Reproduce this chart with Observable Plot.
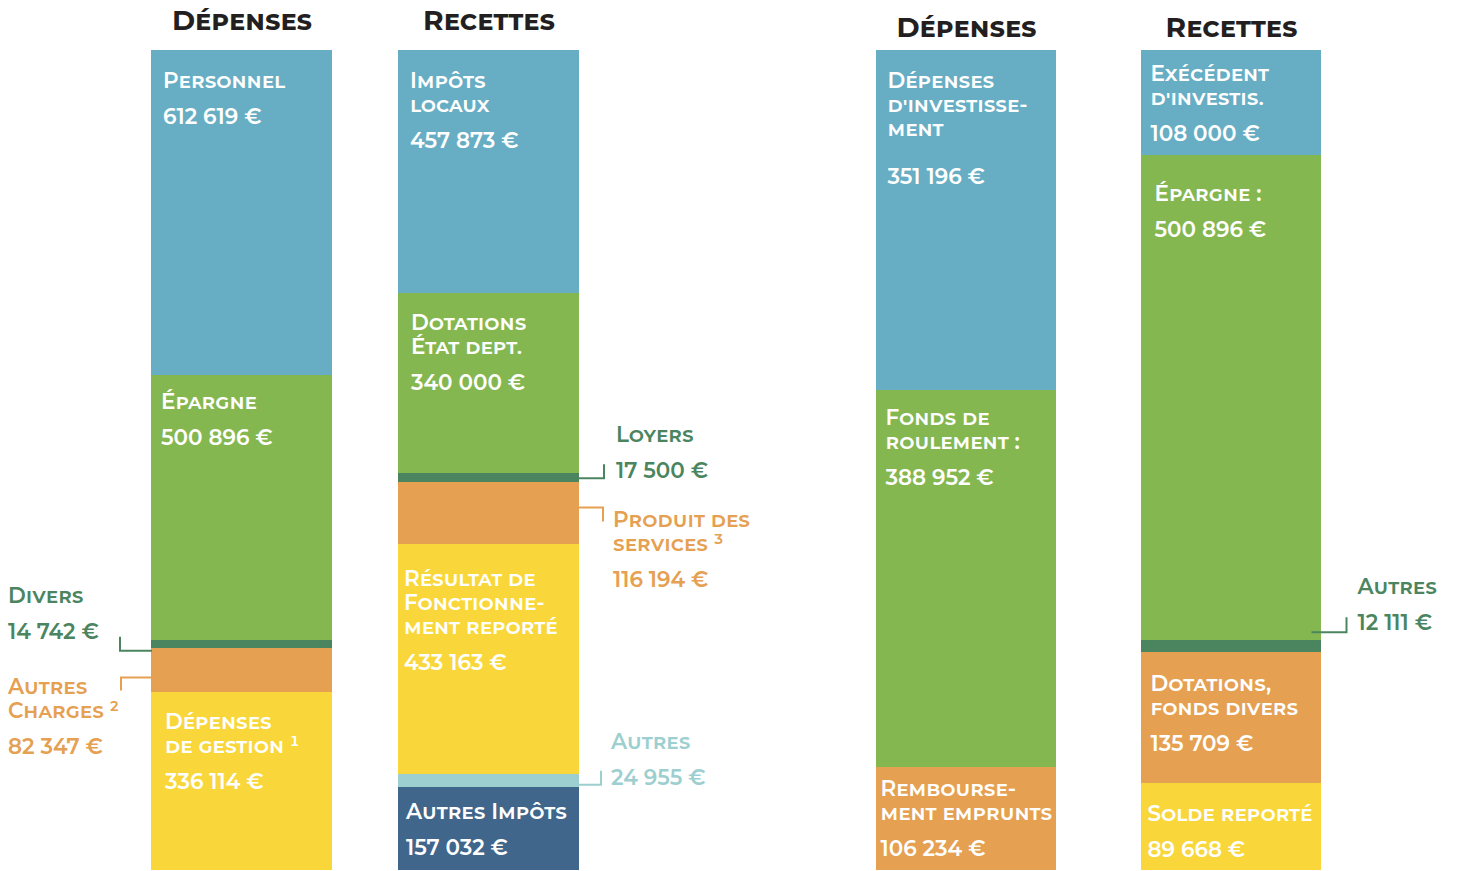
<!DOCTYPE html>
<html>
<head>
<meta charset="utf-8">
<script src="https://cdn.jsdelivr.net/npm/d3@7"></script>
<script src="https://cdn.jsdelivr.net/npm/@observablehq/plot@0.6"></script>
<style>
  html, body { margin: 0; padding: 0; background: #fff; }
  #wrap { display: flex; width: 1459px; height: 871px; overflow: hidden; }
  #wrap svg { display: block; overflow: visible; background: transparent; }
</style>
</head>
<body>
<div id="wrap"></div>
<script>
// ---------- DATA ----------
const barNames = ["Dépenses", "Recettes"];

const fonctDepLabels = ["Personnel", "Épargne", "Divers", "Autres\nCharges ²", "Dépenses\nde gestion ¹"];
const fonctDepValues = [612619, 500896, 14742, 82347, 336114];

const fonctRecLabels = ["Impôts\nlocaux", "Dotations\nÉtat dept.", "Loyers", "Produit des\nservices ³", "Résultat de\nFonctionne-\nment reporté", "Autres", "Autres Impôts"];
const fonctRecValues = [457873, 340000, 17500, 116194, 433163, 24955, 157032];

const investDepLabels = ["Dépenses\nd'investisse-\nment", "Fonds de\nroulement :", "Rembourse-\nment emprunts"];
const investDepValues = [351196, 388952, 106234];

const investRecLabels = ["Exécédent\nd'investis.", "Épargne :", "Autres", "Dotations,\nfonds divers", "Solde reporté"];
const investRecValues = [108000, 500896, 12111, 135709, 89668];

// ---------- STYLES ----------
const C = {
  blue: "#67aec4", green: "#85b750", dkgreen: "#4b8560", orange: "#e5a052",
  yellow: "#f9d73a", teal: "#9dcfd0", navy: "#40668b"
};
const fonctDepColors = [C.blue, C.green, C.dkgreen, C.orange, C.yellow];
const fonctRecColors = [C.blue, C.green, C.dkgreen, C.orange, C.yellow, C.teal, C.navy];
const investDepColors = [C.blue, C.green, C.orange];
const investRecColors = [C.blue, C.green, C.dkgreen, C.orange, C.yellow];

// label placement: inside (tx from left edge, dy from segment top) or callout
const fonctDepPlace = [
  {tx: 11, dy: 28.5}, {tx: 9, dy: 25.5},
  {side: "left", tx: -144, dy: -50, bdx: 0, bdy: 6, bw: -32, bh: -14, color: C.dkgreen},
  {side: "left", tx: -144, dy: 15, bdx: 0, bdy: 7, bw: -31, bh: 13, color: C.orange},
  {tx: 13, dy: 28.5}
];
const fonctRecPlace = [
  {tx: 11, dy: 28.5}, {tx: 12, dy: 28},
  {side: "right", tx: 37, dy: -45, bdx: 0, bdy: 0, bw: 25, bh: -14, color: C.dkgreen},
  {side: "right", tx: 34, dy: 4.5, bdx: 0, bdy: -6, bw: 24, bh: 14, color: C.orange},
  {tx: 5, dy: 33.5},
  {side: "right", tx: 32, dy: -40.5, bdx: 0, bdy: 4, bw: 22, bh: -14, color: C.teal},
  {tx: 7, dy: 23}
];
const investDepPlace = [
  {tx: 11, dy: 28.5, gap: 4}, {tx: 9, dy: 26}, {tx: 4, dy: 20}
];
const investRecPlace = [
  {tx: 9, dy: 21.5}, {tx: 13, dy: 37},
  {side: "right", tx: 36, dy: -61, bdx: -10, bdy: -14, bw: 35, bh: -15, color: C.dkgreen},
  {tx: 9, dy: 30}, {tx: 6, dy: 28.5}
];

const FONT = "Montserrat, Inter, 'DejaVu Sans', sans-serif";
const FS = 21.5;
const LH = 12 / FS; // 12px per line-unit

const fmt = v => String(v).replace(/\B(?=(\d{3})+(?!\d))/g, " ") + " €";

function buildRows(bar, labels, values, colors, place) {
  const total = d3.sum(values);
  let cum = 0;
  return labels.map((label, i) => {
    const y1 = cum / total;
    cum += values[i];
    const y2 = cum / total;
    return {bar, label, value: values[i], y1, y2, mid: (y1 + y2) / 2, color: colors[i], ...place[i]};
  });
}

function bracket(w, h) {
  return {draw(ctx) { ctx.moveTo(0, 0); ctx.lineTo(w, 0); ctx.lineTo(w, h); }};
}

function panel(rows, {width, marginLeft, marginRight, paddingInner, tickPadding}) {
  const half = 90;
  const marks = [
    Plot.barY(rows, {x: "bar", y1: "y1", y2: "y2", fill: "color", shapeRendering: "crispEdges"}),
    Plot.axisX({anchor: "top", tickSize: 0, tickPadding, label: null, fontSize: 28, fontWeight: 700,
      fontVariant: "small-caps", fill: "#231f20", fontFamily: FONT})
  ];
  for (const r of rows) {
    const body = r.label.replace(/\n/g, "\n\n") + "\n".repeat(3 + (r.gap ? r.gap - 3 : 0)) + fmt(r.value);
    if (!r.side) {
      marks.push(Plot.text([r], {
        x: "bar", y: "y1", text: () => body, dx: -half + r.tx, dy: r.dy,
        textAnchor: "start", lineAnchor: "top", lineHeight: LH,
        fontSize: FS, fontWeight: 600, fontVariant: "small-caps", fill: "#fff", fontFamily: FONT
      }));
    } else {
      const edge = r.side === "left" ? -half : half;
      marks.push(Plot.dot([r], {
        x: "bar", y: "mid", dx: edge + r.bdx, dy: r.bdy, symbol: bracket(r.bw, r.bh),
        stroke: r.color, strokeWidth: 2, fill: "none"
      }));
      marks.push(Plot.text([r], {
        x: "bar", y: "mid", text: () => body, dx: edge + r.tx, dy: r.dy,
        textAnchor: "start", lineAnchor: "top", lineHeight: LH,
        fontSize: FS, fontWeight: 600, fontVariant: "small-caps", fill: r.color, fontFamily: FONT
      }));
    }
  }
  return Plot.plot({
    width, height: 871, marginTop: 50, marginBottom: 1, marginLeft, marginRight,
    x: {type: "band", domain: barNames, paddingInner, paddingOuter: 0},
    y: {domain: [0, 1], reverse: true, axis: null},
    color: {type: "identity"},
    style: {fontFamily: FONT, overflow: "visible"},
    marks
  });
}

const leftRows = [
  ...buildRows("Dépenses", fonctDepLabels, fonctDepValues, fonctDepColors, fonctDepPlace),
  ...buildRows("Recettes", fonctRecLabels, fonctRecValues, fonctRecColors, fonctRecPlace)
];
const rightRows = [
  ...buildRows("Dépenses", investDepLabels, investDepValues, investDepColors, investDepPlace),
  ...buildRows("Recettes", investRecLabels, investRecValues, investRecColors, investRecPlace)
];

const wrap = document.getElementById("wrap");
const left = panel(leftRows, {width: 740, marginLeft: 151, marginRight: 161, paddingInner: 66 / 246, tickPadding: 21});
const right = panel(rightRows, {width: 719, marginLeft: 136, marginRight: 138, paddingInner: 85 / 265, tickPadding: 14});
left.style.position = "relative"; left.style.zIndex = "2";
wrap.append(left, right);
</script>
</body>
</html>
